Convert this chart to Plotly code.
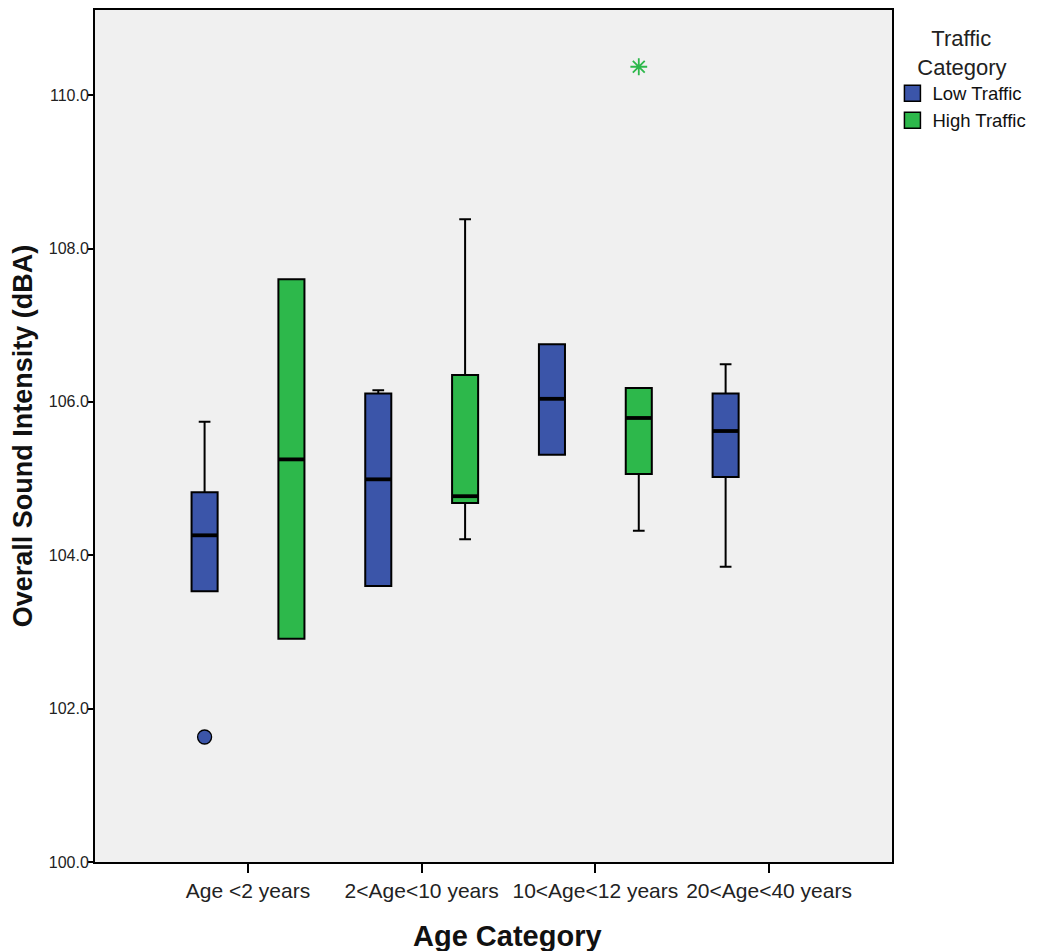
import plotly.graph_objects as go

# ---- data ----
categories = ["Age <2 years", "2<Age<10 years", "10<Age<12 years", "20<Age<40 years"]

low_cat = [0, 1, 2, 3]
low_q1 = [103.53, 103.60, 105.31, 105.02]
low_median = [104.26, 104.99, 106.04, 105.62]
low_q3 = [104.82, 106.11, 106.75, 106.11]
low_lower = [103.53, 103.60, 105.31, 103.85]
low_upper = [105.74, 106.15, 106.75, 106.49]

high_cat = [0, 1, 2]
high_q1 = [102.91, 104.68, 105.06]
high_median = [105.25, 104.77, 105.79]
high_q3 = [107.60, 106.35, 106.18]
high_lower = [102.91, 104.21, 104.32]
high_upper = [107.60, 108.38, 106.18]

low_outlier_cat = [0]
low_outlier_val = [101.63]
high_extreme_cat = [2]
high_extreme_val = [110.37]

# ---- styling ----
BLUE = "#3B55A9"
GREEN = "#2DB84B"
OFFSET = 0.25
BOX_W = 0.15
ARIAL = "Liberation Sans, Arial, sans-serif"
FIG_W, FIG_H = 1029, 943

fig = go.Figure()

def add_group(cats, q1, med, q3, lo, hi, color, sign):
    xs = [c + sign * OFFSET for c in cats]
    fig.add_trace(go.Box(
        x=xs, q1=q1, median=med, q3=q3, lowerfence=lo, upperfence=hi,
        width=BOX_W, whiskerwidth=0.45, fillcolor=color,
        line=dict(color="black", width=2), boxpoints=False,
        showlegend=False, hoverinfo="skip",
    ))
    for x, m in zip(xs, med):
        fig.add_shape(type="line", xref="x", yref="y",
                      x0=x - BOX_W / 2, x1=x + BOX_W / 2, y0=m, y1=m,
                      line=dict(color="black", width=3.8))

add_group(low_cat, low_q1, low_median, low_q3, low_lower, low_upper, BLUE, -1)
add_group(high_cat, high_q1, high_median, high_q3, high_lower, high_upper, GREEN, +1)

fig.add_trace(go.Scatter(
    x=[c - OFFSET for c in low_outlier_cat], y=low_outlier_val, mode="markers",
    marker=dict(symbol="circle", size=14, color=BLUE, line=dict(color="black", width=1.3)),
    showlegend=False, hoverinfo="skip"))
fig.add_trace(go.Scatter(
    x=[c + OFFSET for c in high_extreme_cat], y=high_extreme_val, mode="markers",
    marker=dict(symbol="asterisk", size=14, color=GREEN, line=dict(color=GREEN, width=1.8)),
    showlegend=False, hoverinfo="skip"))

# legend entries
for name, color in [("Low Traffic", BLUE), ("High Traffic", GREEN)]:
    fig.add_trace(go.Scatter(
        x=[None], y=[None], mode="markers", name=name,
        marker=dict(symbol="square", size=19, color=color, line=dict(color="black", width=1.5))))

fig.update_layout(
    width=FIG_W, height=FIG_H,
    margin=dict(l=87, r=145, t=2, b=89),
    paper_bgcolor="white", plot_bgcolor="#F0F0F0",
    font=dict(family=ARIAL, color="black"),
    legend=dict(
        xref="container", yref="container",
        x=0.8595, xanchor="left", y=0.99, yanchor="top",
        title=dict(text="\u00a0\u00a0\u200aTraffic<br>Category", side="top center",
                   font=dict(family=ARIAL, size=22, color="#222")),
        font=dict(family=ARIAL, size=18.5, color="#111"),
        itemwidth=30, tracegroupgap=0, bgcolor="rgba(0,0,0,0)",
    ),
    xaxis=dict(
        range=[-0.881, 3.708], tickmode="array", tickvals=list(range(len(categories))),
        ticktext=categories, tickangle=0,
        ticks="outside", ticklen=9, tickwidth=1.5, tickcolor="black",
        tickfont=dict(family=ARIAL, size=21, color="#222"),
        showline=True, linecolor="black", linewidth=2, mirror=True,
        showgrid=False, zeroline=False,
        automargin=False,
    ),
    yaxis=dict(
        range=[100, 111.11], tickmode="linear", tick0=100, dtick=2, tickformat=".1f",
        ticks="outside", ticklen=5, tickwidth=1.5, tickcolor="black",
        ticklabelstandoff=-4,
        tickfont=dict(family=ARIAL, size=16, color="#222"),
        showline=True, linecolor="black", linewidth=2, mirror=True,
        showgrid=False, zeroline=False,
        title=dict(text="<b>Overall Sound Intensity (dBA)</b>",
                   font=dict(family=ARIAL, size=27, color="#111"), standoff=8),
        automargin=False,
    ),
    annotations=[dict(
        text="<b>Age Category</b>", xref="paper", yref="paper", x=0.518, y=0,
        xanchor="center", yanchor="middle", yshift=-74, showarrow=False,
        font=dict(family=ARIAL, size=29, color="#111"),
    )],
)

fig.write_html("out.html")
